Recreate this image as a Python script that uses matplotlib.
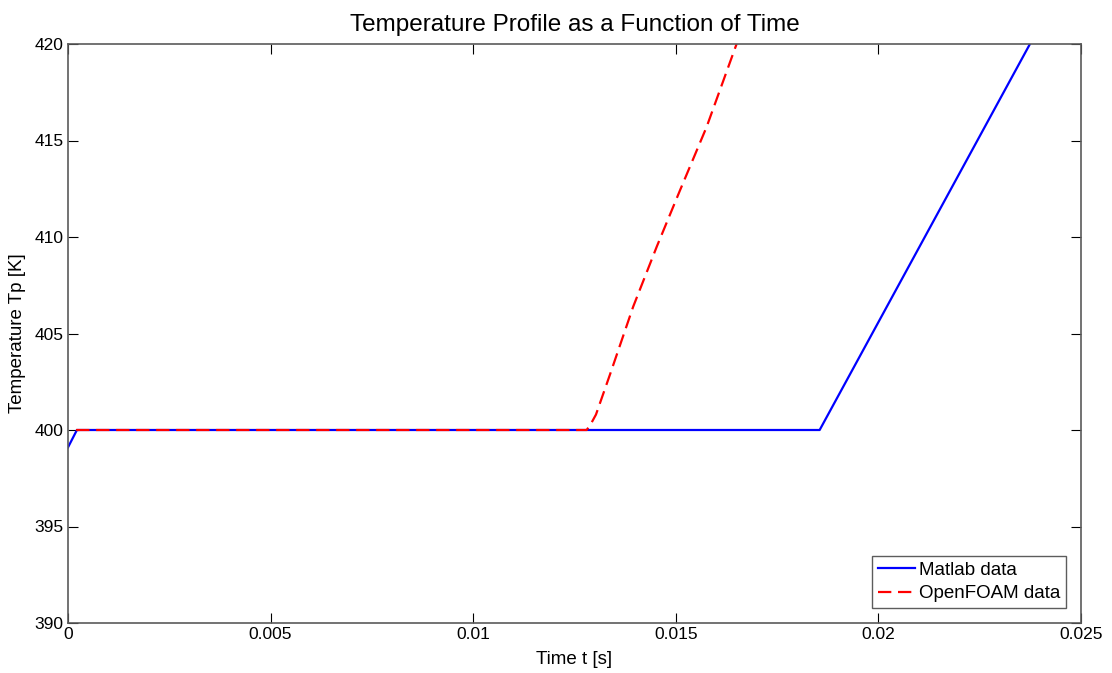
import matplotlib
matplotlib.use("Agg")
import matplotlib.pyplot as plt

# Data
matlab_t = [0.0, 0.00022, 0.01855, 0.02374]
matlab_T = [399.1, 400.0, 400.0, 420.0]

foam_t = [0.0002, 0.0128, 0.01290, 0.01303, 0.01338, 0.01395, 0.01453, 0.01510, 0.01576, 0.01650]
foam_T = [400.0, 400.0, 400.3, 400.8, 402.9, 406.4, 409.5, 412.4, 415.7, 420.0]

xticks = [0, 0.005, 0.01, 0.015, 0.02, 0.025]
xticklabels = ["0", "0.005", "0.01", "0.015", "0.02", "0.025"]
yticks = [390, 395, 400, 405, 410, 415, 420]

plt.rcParams['font.family'] = ['Liberation Sans', 'DejaVu Sans']

fig = plt.figure(figsize=(11.12, 6.73), dpi=100)
ax = fig.add_axes([68/1112, 1-623/673, (1081-68)/1112, (623-44)/673])

ax.plot(matlab_t, matlab_T, color='#0000ff', lw=1.6, label='Matlab data')
ax.plot(foam_t, foam_T, color='#ff0000', lw=1.6, ls=(0, (6, 3)), label='OpenFOAM data')

ax.set_xlim(0, 0.025)
ax.set_ylim(390, 420)
ax.set_xticks(xticks)
ax.set_xticklabels(xticklabels)
ax.set_yticks(yticks)
ax.tick_params(direction='in', length=7, width=0.8, top=True, right=True,
               labelsize=12.5, pad=3, color='black')
for s in ax.spines.values():
    s.set_color('#5a5a5a')
    s.set_linewidth(1.2)

ax.set_xlabel('Time t [s]', fontsize=13.5, labelpad=6)
ax.set_ylabel('Temperature Tp [K]', fontsize=13.5, labelpad=6)
ax.set_title('Temperature Profile as a Function of Time', fontsize=17.5, pad=9)

leg = ax.legend(loc='lower right', fontsize=13.5, frameon=True, fancybox=False,
                borderaxespad=0.8, handlelength=2.0, handletextpad=0.2,
                borderpad=0.3, labelspacing=0.35)
leg.get_frame().set_edgecolor('#333333')
leg.get_frame().set_linewidth(1.0)

fig.savefig('out.png', dpi=100, facecolor='white')
